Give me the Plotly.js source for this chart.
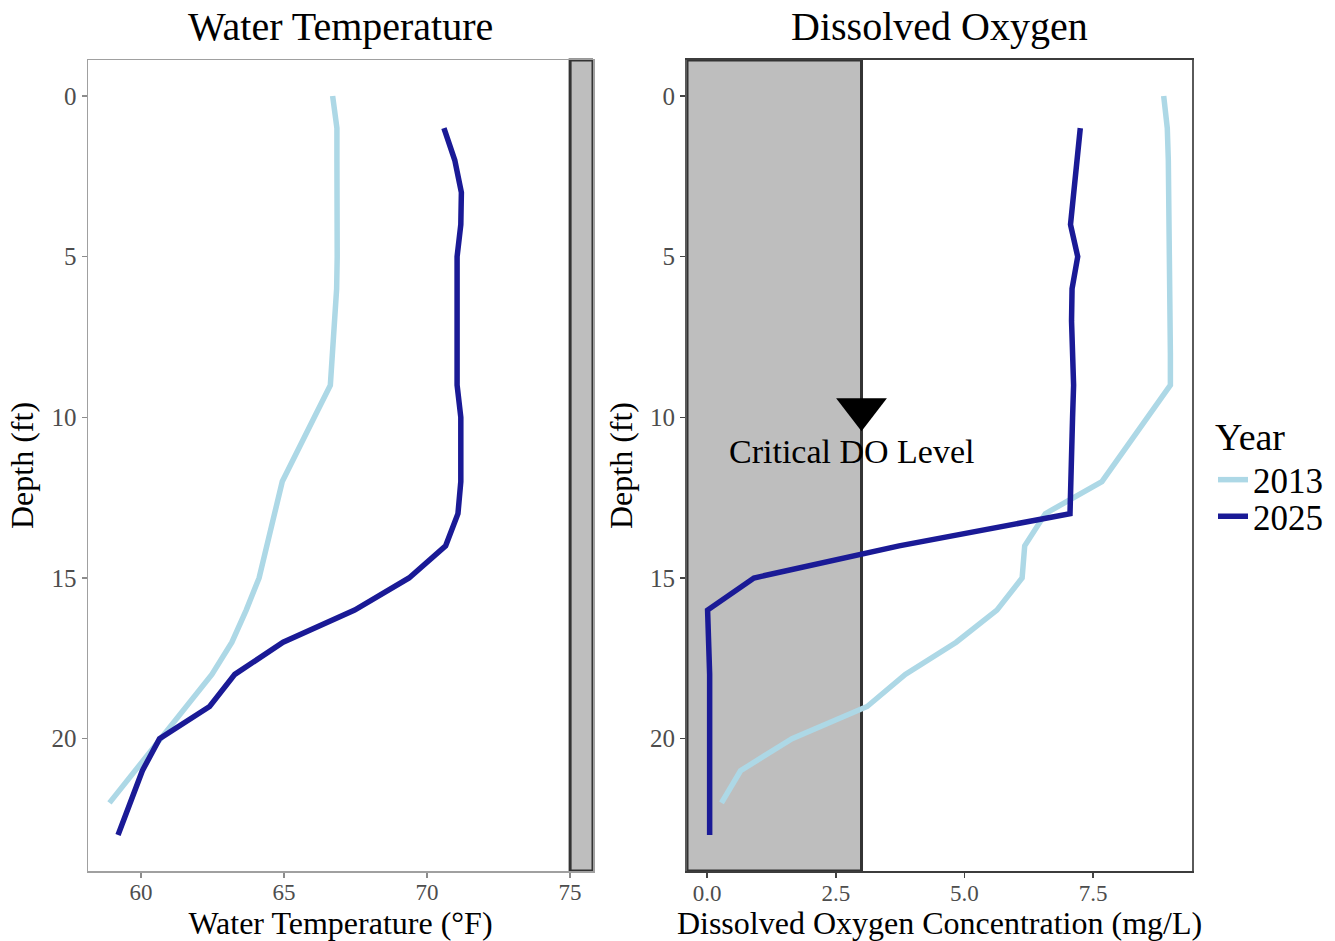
<!DOCTYPE html>
<html>
<head>
<meta charset="utf-8">
<script src="https://cdn.plot.ly/plotly-3.0.1.min.js"></script>
<style>
  html, body { margin: 0; padding: 0; background: #ffffff; }
  #chart { width: 1335px; height: 941px; }
</style>
</head>
<body>
<div id="chart"></div>
<script>
// ---- data ----
const years = ["2013", "2025"];

const depth2013 = [0, 1, 2, 3, 4, 5, 6, 7, 8, 9, 10, 11, 12, 13, 14, 15, 16, 17, 18, 19, 20, 21, 22];
const temp2013  = [66.70, 66.85, 66.85, 66.86, 66.87, 66.86, 66.84, 66.77, 66.70, 66.62, 66.06, 65.50,
                   64.94, 64.67, 64.38, 64.13, 63.68, 63.18, 62.48, 61.58, 60.69, 59.78, 58.90];
const do2013    = [8.87, 8.94, 8.96, 8.97, 8.98, 8.99, 8.99, 9.00, 9.00, 9.00, 8.56, 8.11,
                   7.67, 6.57, 6.17, 6.12, 5.63, 4.84, 3.85, 3.11, 1.65, 0.65, 0.28];

const depth2025 = [1, 2, 3, 4, 5, 6, 7, 8, 9, 10, 11, 12, 13, 14, 15, 16, 17, 18, 19, 20, 21, 22, 23];
const temp2025  = [70.59, 70.97, 71.20, 71.18, 71.05, 71.05, 71.05, 71.05, 71.05, 71.18, 71.18, 71.18,
                   71.08, 70.65, 69.37, 67.47, 64.97, 63.28, 62.40, 60.65, 60.05, 59.64, 59.20];
const do2025    = [7.25, 7.18, 7.12, 7.06, 7.20, 7.09, 7.08, 7.09, 7.12, 7.10, 7.08, 7.07,
                   7.05, 3.73, 0.91, 0.01, 0.04, 0.05, 0.05, 0.05, 0.05, 0.05, 0.05];

const criticalTemp = 75;      // shaded from here to the right edge
const criticalDO = 3;         // shaded from left edge to here
const criticalLabel = "Critical DO Level";
const markerDepth = 9.75;
const labelDepth = 11.05;
const labelDO = 2.8;

const tempTicks = [60, 65, 70, 75];
const doTicks = [0, 2.5, 5, 7.5];
const depthTicks = [0, 5, 10, 15, 20];

// ---- style ----
const colLight = "#ADD8E6";
const colDark = "#1a1a96";
const FONT = "'Liberation Serif', 'Times New Roman', serif";
const tempRange = [58.15, 75.8];
const doRange = [-0.39, 9.42];
const depthRange = [24.12, -1.12];
const LW = 5.5;

const traces = [
  { x: temp2013, y: depth2013, type: "scatter", mode: "lines", name: years[0], legend: "legend",
    line: { color: colLight, width: LW }, xaxis: "x", yaxis: "y", showlegend: true },
  { x: temp2025, y: depth2025, type: "scatter", mode: "lines", name: years[1], legend: "legend2",
    line: { color: colDark, width: LW }, xaxis: "x", yaxis: "y", showlegend: true },
  { x: do2013, y: depth2013, type: "scatter", mode: "lines", name: years[0],
    line: { color: colLight, width: LW }, xaxis: "x2", yaxis: "y2", showlegend: false },
  { x: do2025, y: depth2025, type: "scatter", mode: "lines", name: years[1],
    line: { color: colDark, width: LW }, xaxis: "x2", yaxis: "y2", showlegend: false },
  { x: [criticalDO], y: [markerDepth], type: "scatter", mode: "markers", showlegend: false, hoverinfo: "skip",
    marker: { symbol: "triangle-down", size: 44, color: "#000000" }, xaxis: "x2", yaxis: "y2" }
];

const yTickFont = { family: FONT, size: 25, color: "#4d4d4d" };
const xTickFont = { family: FONT, size: 23, color: "#4d4d4d" };
const titleFont = { family: FONT, size: 32, color: "#000000" };

function xa(domain, range, ticks, fmt, title, lineColor, lw, tickColor) {
  return {
    domain: domain, range: range, tickvals: ticks, tickformat: fmt,
    showgrid: false, zeroline: false, showline: true, mirror: true,
    linecolor: lineColor, linewidth: lw,
    ticks: "outside", ticklen: 5, tickwidth: 1.5, tickcolor: tickColor,
    ticklabelstandoff: -5,
    tickfont: xTickFont, title: { text: title, font: titleFont, standoff: 9 },
    fixedrange: true
  };
}
function ya(domain, anchor, lineColor, lw, tickColor) {
  return {
    domain: domain, range: depthRange, tickvals: depthTicks, anchor: anchor,
    showgrid: false, zeroline: false, showline: true, mirror: true,
    linecolor: lineColor, linewidth: lw,
    ticks: "outside", ticklen: 5, tickwidth: 1.5, tickcolor: tickColor,
    tickfont: yTickFont, title: { text: "Depth (ft)", font: titleFont, standoff: 8 },
    fixedrange: true
  };
}

const yDom = [70 / 941, 881 / 941];

const layout = {
  width: 1335, height: 941,
  margin: { l: 0, r: 0, t: 0, b: 0 },
  paper_bgcolor: "#ffffff", plot_bgcolor: "#ffffff",
  font: { family: FONT, color: "#000000" },
  xaxis: xa([88 / 1335, 593 / 1335], tempRange, tempTicks, "d", "Water Temperature (°F)", "#a0a0a0", 1.5, "#8c8c8c"),
  yaxis: ya(yDom, "x", "#a0a0a0", 1.5, "#8c8c8c"),
  xaxis2: xa([687 / 1335, 1192 / 1335], doRange, doTicks, ".1f", "Dissolved Oxygen Concentration (mg/L)", "#3c3c3c", 2, "#444444"),
  yaxis2: ya(yDom, "x2", "#5a5a5a", 2, "#444444"),
  showlegend: true,
  legend: {
    x: 1213 / 1335, xanchor: "left", y: (941 - 401) / 941, yanchor: "top",
    title: { text: "Year", font: { family: FONT, size: 38, color: "#000000" } },
    font: { family: FONT, size: 35, color: "#000000" },
    bgcolor: "rgba(0,0,0,0)", itemwidth: 30
  },
  legend2: {
    x: 1213 / 1335, xanchor: "left", y: (941 - 487) / 941, yanchor: "top",
    font: { family: FONT, size: 35, color: "#000000" },
    bgcolor: "rgba(0,0,0,0)", itemwidth: 30
  },
  shapes: [
    { type: "rect", xref: "x", yref: "y domain", x0: criticalTemp, x1: tempRange[1], y0: 0, y1: 1,
      fillcolor: "#BEBEBE", line: { color: "#333333", width: 3 }, layer: "below" },
    { type: "rect", xref: "x2", yref: "y2 domain", x0: doRange[0], x1: criticalDO, y0: 0, y1: 1,
      fillcolor: "#BEBEBE", line: { color: "#333333", width: 3 }, layer: "below" }
  ],
  annotations: [
    { text: "Water Temperature", xref: "paper", yref: "paper", x: 340 / 1335, y: (941 - 27) / 941,
      xanchor: "center", yanchor: "middle", showarrow: false, font: { family: FONT, size: 40, color: "#000000" } },
    { text: "Dissolved Oxygen", xref: "paper", yref: "paper", x: 939 / 1335, y: (941 - 27) / 941,
      xanchor: "center", yanchor: "middle", showarrow: false, font: { family: FONT, size: 40, color: "#000000" } },
    { text: criticalLabel, xref: "x2", yref: "y2", x: labelDO, y: labelDepth,
      xanchor: "center", yanchor: "middle", showarrow: false, font: { family: FONT, size: 34, color: "#000000" } }
  ]
};

Plotly.newPlot("chart", traces, layout, { displayModeBar: false, staticPlot: true });
</script>
</body>
</html>
